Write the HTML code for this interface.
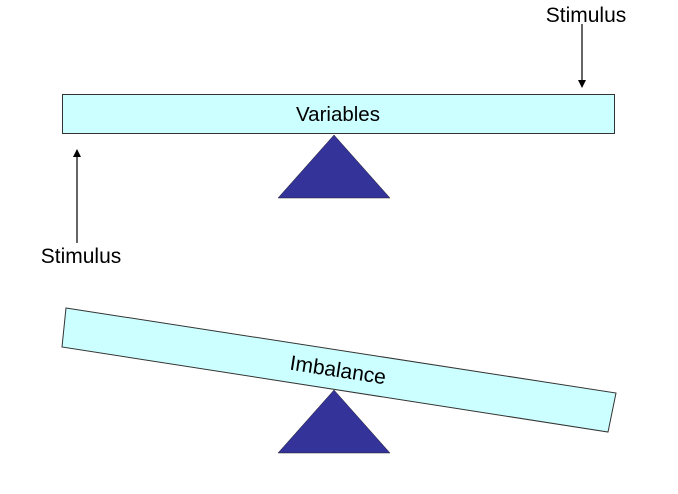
<!DOCTYPE html>
<html><head><style>
body{margin:0;width:678px;height:489px;background:#fff;overflow:hidden}
</style></head><body>
<svg width="678" height="489" viewBox="0 0 678 489" xmlns="http://www.w3.org/2000/svg" font-family="Liberation Sans, sans-serif">
<defs><marker id="a" markerWidth="8" markerHeight="8" refX="7" refY="4" orient="auto" markerUnits="userSpaceOnUse"><path d="M0,0 L8,4 L0,8 z" fill="#000"/></marker></defs>
<rect x="62.5" y="94.5" width="552" height="39" fill="#ccffff" stroke="#333" stroke-width="1"/>
<text x="338" y="121" font-size="20.5" text-anchor="middle">Variables</text>
<polygon points="334,135 390,198 278,198" fill="#333399" stroke="#222" stroke-width="0.5"/>
<text x="586" y="22" font-size="21" text-anchor="middle">Stimulus</text>
<line x1="582" y1="24" x2="582" y2="87" stroke="#000" stroke-width="1.2" marker-end="url(#a)"/>
<line x1="77" y1="243" x2="77" y2="150" stroke="#000" stroke-width="1.2" marker-end="url(#a)"/>
<text x="81" y="263" font-size="21" text-anchor="middle">Stimulus</text>
<polygon points="66,308 616,393 608,432 62,347" fill="#ccffff" stroke="#333" stroke-width="1"/>
<text x="338" y="377" font-size="21" text-anchor="middle" transform="rotate(8.8 338 370)">Imbalance</text>
<polygon points="334,390 390,453 278,453" fill="#333399" stroke="#222" stroke-width="0.5"/>
</svg>
</body></html>
